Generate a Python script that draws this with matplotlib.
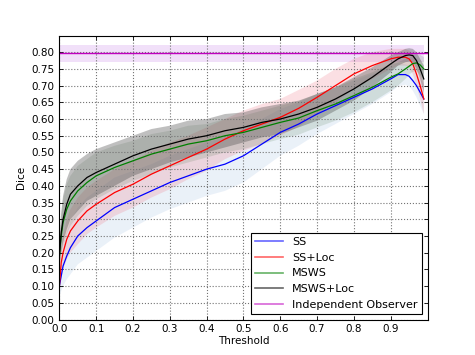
import numpy as np
import matplotlib
matplotlib.use("Agg")
import matplotlib.pyplot as plt
from matplotlib.lines import Line2D

# threshold values (x axis)
thresh = [0, 0.005, 0.01, 0.02, 0.03, 0.05, 0.075, 0.1, 0.15, 0.2, 0.25, 0.3, 0.35, 0.4, 0.45, 0.5,
          0.55, 0.6, 0.65, 0.7, 0.75, 0.8, 0.85, 0.9, 0.92, 0.94, 0.95, 0.96, 0.97, 0.98, 0.99]

# mean dice per method
ss = [0.10, 0.13, 0.16, 0.19, 0.215, 0.25, 0.275, 0.295, 0.335, 0.36, 0.385, 0.41, 0.43, 0.45, 0.465, 0.49,
      0.525, 0.56, 0.585, 0.615, 0.64, 0.665, 0.69, 0.72, 0.733, 0.733, 0.728, 0.715, 0.70, 0.68, 0.66]
ss_loc = [0.10, 0.17, 0.20, 0.24, 0.265, 0.295, 0.325, 0.345, 0.38, 0.405, 0.435, 0.46, 0.485, 0.51, 0.54, 0.565,
          0.585, 0.605, 0.632, 0.665, 0.70, 0.735, 0.76, 0.78, 0.785, 0.785, 0.78, 0.765, 0.735, 0.70, 0.66]
msws = [0.19, 0.25, 0.29, 0.33, 0.355, 0.385, 0.41, 0.43, 0.455, 0.475, 0.495, 0.51, 0.525, 0.535, 0.55, 0.56,
        0.575, 0.59, 0.603, 0.625, 0.645, 0.67, 0.695, 0.725, 0.735, 0.75, 0.758, 0.766, 0.768, 0.762, 0.75]
msws_loc = [0.19, 0.26, 0.30, 0.345, 0.375, 0.40, 0.425, 0.44, 0.465, 0.49, 0.51, 0.525, 0.54, 0.55, 0.565, 0.575,
            0.59, 0.60, 0.615, 0.635, 0.66, 0.69, 0.725, 0.765, 0.78, 0.79, 0.792, 0.79, 0.775, 0.75, 0.72]

# standard deviations
ss_std = [0.03, 0.045, 0.06, 0.07, 0.08, 0.085, 0.09, 0.09, 0.09, 0.085, 0.08, 0.08, 0.08, 0.08, 0.08, 0.08,
          0.075, 0.07, 0.065, 0.06, 0.055, 0.05, 0.045, 0.04, 0.035, 0.03, 0.03, 0.03, 0.035, 0.04, 0.045]
ss_loc_std = [0.03, 0.04, 0.05, 0.06, 0.065, 0.07, 0.07, 0.07, 0.07, 0.07, 0.07, 0.07, 0.065, 0.065, 0.06, 0.06,
              0.06, 0.055, 0.055, 0.05, 0.05, 0.045, 0.04, 0.03, 0.025, 0.025, 0.025, 0.03, 0.035, 0.04, 0.045]
msws_std = [0.04, 0.06, 0.07, 0.075, 0.075, 0.075, 0.07, 0.07, 0.065, 0.06, 0.06, 0.055, 0.055, 0.05, 0.05, 0.05,
            0.05, 0.05, 0.05, 0.05, 0.05, 0.05, 0.045, 0.04, 0.035, 0.03, 0.025, 0.025, 0.025, 0.03, 0.035]
msws_loc_std = [0.04, 0.06, 0.07, 0.075, 0.075, 0.075, 0.07, 0.07, 0.065, 0.06, 0.06, 0.055, 0.055, 0.05, 0.05, 0.045,
                0.045, 0.045, 0.04, 0.04, 0.035, 0.035, 0.03, 0.025, 0.02, 0.02, 0.02, 0.02, 0.025, 0.03, 0.04]

# independent observer
obs_mean = 0.797
obs_std = 0.025

labels = ["SS", "SS+Loc", "MSWS", "MSWS+Loc", "Independent Observer"]

fig = plt.figure(figsize=(4.75, 3.55), dpi=100)
ax = fig.add_axes([0.125, 0.1, 0.775, 0.8])

t = np.array(thresh)
series = [(ss, ss_std, "b", "#5a8ccc", 0.12),
          (ss_loc, ss_loc_std, "r", "#f07080", 0.22),
          (msws, msws_std, "g", "#3a6a3a", 0.15),
          (msws_loc, msws_loc_std, "k", "#4a4a4a", 0.35)]

ax.fill_between([0, 0.99], obs_mean - obs_std, obs_mean + obs_std, facecolor="darkviolet",
                alpha=0.12, linewidth=0)
for m, s, c, fc, a in series:
    m = np.array(m)
    s = np.array(s)
    ax.fill_between(t, m - s, m + s, facecolor=fc, alpha=a, linewidth=0)
for m, s, c, fc, a in series:
    ax.plot(t, m, color=c, linewidth=0.9)
ax.axhline(obs_mean, color="m", linewidth=1.0)

ax.set_xlim(0, 1.0)
ax.set_ylim(0, 0.85)
ax.set_xticks(np.arange(0, 0.95, 0.1))
ax.set_yticks(np.arange(0, 0.801, 0.05))
ax.set_xticklabels(["%.1f" % v for v in np.arange(0, 0.95, 0.1)])
ax.set_yticklabels(["%.2f" % v for v in np.arange(0, 0.801, 0.05)])
ax.tick_params(direction="in", top=True, right=True, labelsize=7.5, length=3, width=0.6)
ax.grid(True, linestyle=":", color="0.45", linewidth=0.8)
ax.set_xlabel("Threshold", fontsize=7.5, labelpad=1)
ax.set_ylabel("Dice", fontsize=7.5)
for sp in ax.spines.values():
    sp.set_linewidth(0.8)

handles = [Line2D([], [], color=c, alpha=0.6, linewidth=1.2) for c in ["b", "r", "g", "k", "m"]]
leg = ax.legend(handles, labels, loc="lower right", fontsize=8, fancybox=False,
                framealpha=1, edgecolor="k", borderaxespad=0.5, handlelength=2.5)
leg.get_frame().set_linewidth(0.8)

fig.savefig("out.png", dpi=100)
